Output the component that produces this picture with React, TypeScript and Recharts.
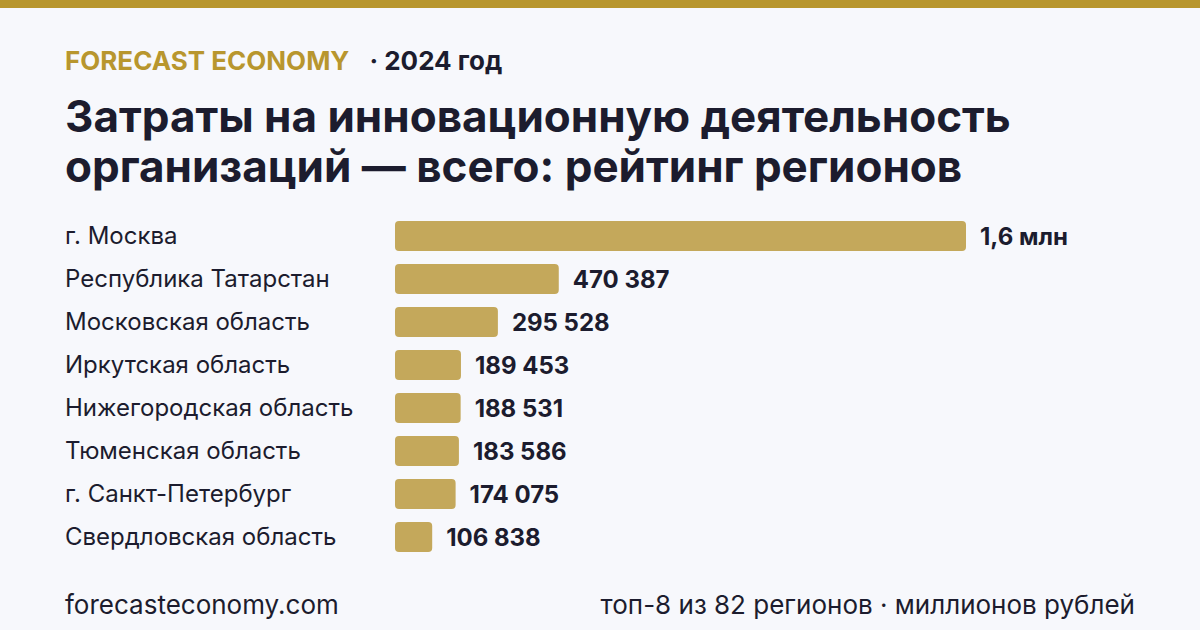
import { BarChart, Bar, XAxis, YAxis, LabelList } from 'recharts';

const regions = [
  'г. Москва',
  'Республика Татарстан',
  'Московская область',
  'Иркутская область',
  'Нижегородская область',
  'Тюменская область',
  'г. Санкт-Петербург',
  'Свердловская область',
];
const costs = [1640000, 470387, 295528, 189453, 188531, 183586, 174075, 106838];

const data = regions.map((name, i) => ({ name, value: costs[i] }));

const GOLD = '#b8962e';
const BAR = '#c4a85b';
const INK = '#1c1c2e';
const FONT = 'Inter, "Noto Sans", sans-serif';

function fmt(v: number) {
  if (v >= 1e6) return (v / 1e6).toFixed(1).replace('.', ',') + ' млн';
  return String(v).replace(/\B(?=(\d{3})+(?!\d))/g, ' ');
}

function RegionTick(props: any) {
  const { y, payload } = props;
  return (
    <text x={65} y={y} dy={8} textAnchor="start" fontSize={24} fill={INK} fontFamily={FONT}>
      {payload.value}
    </text>
  );
}

export default function App() {
  return (
    <div
      style={{
        position: 'absolute',
        left: 0,
        top: 0,
        width: 1200,
        height: 630,
        background: '#f7f8fc',
        fontFamily: FONT,
        overflow: 'hidden',
      }}
    >
      <div style={{ position: 'absolute', left: 0, top: 0, width: 1200, height: 8, background: GOLD }} />
      <div style={{ position: 'absolute', left: 65, top: 45, fontSize: 26, fontWeight: 700, whiteSpace: 'nowrap' }}>
        <span style={{ color: GOLD }}>FORECAST ECONOMY</span>
        <span style={{ color: INK, marginLeft: 20 }}>· 2024 год</span>
      </div>
      <div
        style={{
          position: 'absolute',
          left: 65,
          top: 91,
          fontSize: 44,
          fontWeight: 700,
          lineHeight: '50px',
          color: INK,
          whiteSpace: 'nowrap',
        }}
      >
        Затраты на инновационную деятельность
        <br />
        организаций — всего: рейтинг регионов
      </div>
      <div style={{ position: 'absolute', left: 0, top: 214 }}>
        <BarChart width={1200} height={344} data={data} layout="vertical" margin={{ top: 0, right: 234, bottom: 0, left: 0 }}>
          <XAxis type="number" hide domain={[0, 1640000]} />
          <YAxis type="category" dataKey="name" width={395} axisLine={false} tickLine={false} tick={<RegionTick />} />
          <Bar dataKey="value" fill={BAR} barSize={30} radius={4} isAnimationActive={false}>
            <LabelList
              dataKey="value"
              position="right"
              offset={14}
              formatter={(v: any) => fmt(Number(v))}
              style={{ fontSize: 24, fontWeight: 700, fill: INK, fontFamily: FONT }}
            />
          </Bar>
        </BarChart>
      </div>
      <div style={{ position: 'absolute', left: 65, top: 589, fontSize: 26, color: INK }}>forecasteconomy.com</div>
      <div style={{ position: 'absolute', right: 65, top: 589, fontSize: 26, color: INK }}>
        топ-8 из 82 регионов · миллионов рублей
      </div>
    </div>
  );
}
